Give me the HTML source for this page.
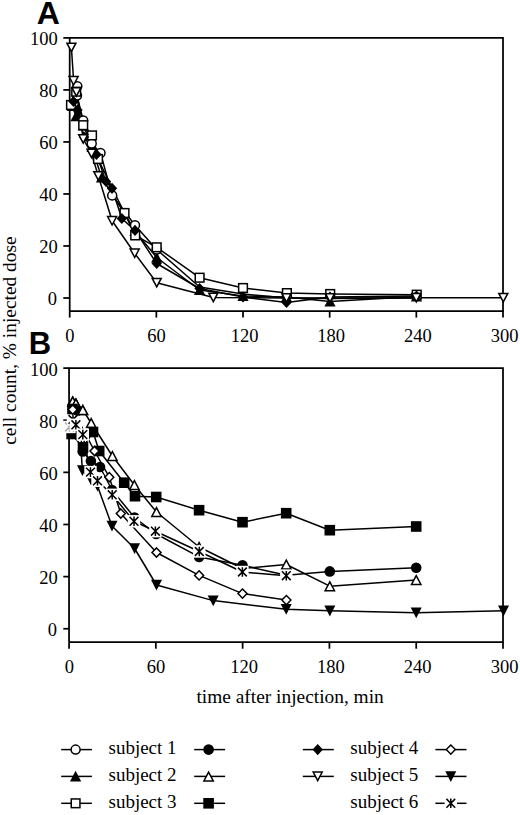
<!DOCTYPE html>
<html><head><meta charset="utf-8"><style>
html,body{margin:0;padding:0;background:#fff;}
svg{display:block;}
.tk{font-family:"Liberation Serif",serif;font-size:18.5px;fill:#000;}
.lg{font-family:"Liberation Serif",serif;font-size:19px;fill:#000;}
.at{font-family:"Liberation Serif",serif;font-size:19.4px;fill:#000;}
.pl{font-family:"Liberation Sans",sans-serif;font-weight:bold;font-size:32.5px;fill:#000;}
</style></head><body>
<svg width="520" height="815" viewBox="0 0 520 815">
<path d="M69.7 311.1V37.9H503V311.1H69.7" fill="none" stroke="#000" stroke-width="1.75" stroke-linejoin="miter"/><path d="M63.3 298H69.7" stroke="#000" stroke-width="1.75"/><text x="57.0" y="305.4" text-anchor="end" class="tk">0</text><path d="M63.3 245.98H69.7" stroke="#000" stroke-width="1.75"/><text x="57.7" y="253.38" text-anchor="end" class="tk">20</text><path d="M63.3 193.96H69.7" stroke="#000" stroke-width="1.75"/><text x="57.7" y="201.36" text-anchor="end" class="tk">40</text><path d="M63.3 141.94H69.7" stroke="#000" stroke-width="1.75"/><text x="57.7" y="149.34" text-anchor="end" class="tk">60</text><path d="M63.3 89.92H69.7" stroke="#000" stroke-width="1.75"/><text x="57.7" y="97.32" text-anchor="end" class="tk">80</text><path d="M63.3 37.9H69.7" stroke="#000" stroke-width="1.75"/><text x="57.7" y="45.3" text-anchor="end" class="tk">100</text><path d="M69.7 311.1V317.6" stroke="#000" stroke-width="1.75"/><text x="69.9" y="342.1" text-anchor="middle" class="tk">0</text><path d="M156.36 311.1V317.6" stroke="#000" stroke-width="1.75"/><text x="156.56" y="342.1" text-anchor="middle" class="tk">60</text><path d="M243.02 311.1V317.6" stroke="#000" stroke-width="1.75"/><text x="244.52" y="342.1" text-anchor="middle" class="tk">120</text><path d="M329.68 311.1V317.6" stroke="#000" stroke-width="1.75"/><text x="331.18" y="342.1" text-anchor="middle" class="tk">180</text><path d="M416.34 311.1V317.6" stroke="#000" stroke-width="1.75"/><text x="417.84" y="342.1" text-anchor="middle" class="tk">240</text><path d="M503 311.1V317.6" stroke="#000" stroke-width="1.75"/><text x="504.5" y="342.1" text-anchor="middle" class="tk">300</text><path d="M69.05 642.2V368.1H503V642.2H69.05" fill="none" stroke="#000" stroke-width="1.75" stroke-linejoin="miter"/><path d="M63.3 628.75H69.05" stroke="#000" stroke-width="1.75"/><text x="57.0" y="636.15" text-anchor="end" class="tk">0</text><path d="M63.3 576.62H69.05" stroke="#000" stroke-width="1.75"/><text x="57.7" y="584.02" text-anchor="end" class="tk">20</text><path d="M63.3 524.49H69.05" stroke="#000" stroke-width="1.75"/><text x="57.7" y="531.89" text-anchor="end" class="tk">40</text><path d="M63.3 472.36H69.05" stroke="#000" stroke-width="1.75"/><text x="57.7" y="479.76" text-anchor="end" class="tk">60</text><path d="M63.3 420.23H69.05" stroke="#000" stroke-width="1.75"/><text x="57.7" y="427.63" text-anchor="end" class="tk">80</text><path d="M63.3 368.1H69.05" stroke="#000" stroke-width="1.75"/><text x="57.7" y="375.5" text-anchor="end" class="tk">100</text><path d="M69.05 642.2V648.7" stroke="#000" stroke-width="1.75"/><text x="69.25" y="673.2" text-anchor="middle" class="tk">0</text><path d="M155.84 642.2V648.7" stroke="#000" stroke-width="1.75"/><text x="156.04" y="673.2" text-anchor="middle" class="tk">60</text><path d="M242.63 642.2V648.7" stroke="#000" stroke-width="1.75"/><text x="244.13" y="673.2" text-anchor="middle" class="tk">120</text><path d="M329.42 642.2V648.7" stroke="#000" stroke-width="1.75"/><text x="330.92" y="673.2" text-anchor="middle" class="tk">180</text><path d="M416.21 642.2V648.7" stroke="#000" stroke-width="1.75"/><text x="417.71" y="673.2" text-anchor="middle" class="tk">240</text><path d="M503 642.2V648.7" stroke="#000" stroke-width="1.75"/><text x="504.5" y="673.2" text-anchor="middle" class="tk">300</text><path d="M77.3 86.3L77 95.6L83.2 120.5L91.7 143.5L100.5 153L112.2 195.4L135 225.2L156.7 249.5L199.6 287L243 294L286.5 298L330 298.5L416.5 298" fill="none" stroke="#000" stroke-width="1.5" stroke-linejoin="round"/><path d="M72.5 106L76 116.3L83.3 125.5L92 147L101.5 177.5L124.5 213.3L135 231L156.7 257.5L199.6 290L243 296L286.5 297L330 301.5L416.5 296.5" fill="none" stroke="#000" stroke-width="1.5" stroke-linejoin="round"/><path d="M71 105L76.2 91.7L83.2 125.2L92 135.4L98 159L124.5 213L135.2 235.4L156.7 247.3L199.6 277.7L243 288L286.9 293.1L330.2 294L416.7 294.7" fill="none" stroke="#000" stroke-width="1.5" stroke-linejoin="round"/><path d="M73.5 101.5L77.5 110L84 137L96.5 154.5L106 181.5L112 188.3L121.8 218.5L135 230.4L156.7 263.5L199.6 288.5L243 297L286.5 302.5L330 297L416.5 296" fill="none" stroke="#000" stroke-width="1.5" stroke-linejoin="round"/><path d="M71.4 47.5L73.6 80.8L76.4 92L83.2 139L91.5 153.5L98.3 176L112.1 220.8L134.7 253.3L156.7 282.7L213.3 297.5L286.5 298L330 298L416.3 297.7L503.3 297.7" fill="none" stroke="#000" stroke-width="1.5" stroke-linejoin="round"/><path d="M72.5 100.4L78.1 111L66.9 111Z" fill="#000"/><path d="M76 110.7L81.6 121.3L70.4 121.3Z" fill="#000"/><path d="M83.3 119.9L88.9 130.5L77.7 130.5Z" fill="#000"/><path d="M92 141.4L97.6 152L86.4 152Z" fill="#000"/><path d="M101.5 171.9L107.1 182.5L95.9 182.5Z" fill="#000"/><path d="M124.5 207.7L130.1 218.3L118.9 218.3Z" fill="#000"/><path d="M135 225.4L140.6 236L129.4 236Z" fill="#000"/><path d="M156.7 251.9L162.3 262.5L151.1 262.5Z" fill="#000"/><path d="M199.6 284.4L205.2 295L194 295Z" fill="#000"/><path d="M243 290.4L248.6 301L237.4 301Z" fill="#000"/><path d="M286.5 291.4L292.1 302L280.9 302Z" fill="#000"/><path d="M330 295.9L335.6 306.5L324.4 306.5Z" fill="#000"/><path d="M416.5 290.9L422.1 301.5L410.9 301.5Z" fill="#000"/><circle cx="77.3" cy="86.3" r="4.5" fill="#fff" stroke="#000" stroke-width="1.5"/><circle cx="77" cy="95.6" r="4.5" fill="#fff" stroke="#000" stroke-width="1.5"/><circle cx="83.2" cy="120.5" r="4.5" fill="#fff" stroke="#000" stroke-width="1.5"/><circle cx="91.7" cy="143.5" r="4.5" fill="#fff" stroke="#000" stroke-width="1.5"/><circle cx="100.5" cy="153" r="4.5" fill="#fff" stroke="#000" stroke-width="1.5"/><circle cx="112.2" cy="195.4" r="4.5" fill="#fff" stroke="#000" stroke-width="1.5"/><circle cx="135" cy="225.2" r="4.5" fill="#fff" stroke="#000" stroke-width="1.5"/><circle cx="156.7" cy="249.5" r="4.5" fill="#fff" stroke="#000" stroke-width="1.5"/><rect x="66.65" y="100.65" width="8.7" height="8.7" fill="#fff" stroke="#000" stroke-width="1.5"/><rect x="71.85" y="87.35" width="8.7" height="8.7" fill="#fff" stroke="#000" stroke-width="1.5"/><rect x="78.85" y="120.85" width="8.7" height="8.7" fill="#fff" stroke="#000" stroke-width="1.5"/><rect x="87.65" y="131.05" width="8.7" height="8.7" fill="#fff" stroke="#000" stroke-width="1.5"/><rect x="93.65" y="154.65" width="8.7" height="8.7" fill="#fff" stroke="#000" stroke-width="1.5"/><rect x="120.15" y="208.65" width="8.7" height="8.7" fill="#fff" stroke="#000" stroke-width="1.5"/><rect x="130.85" y="231.05" width="8.7" height="8.7" fill="#fff" stroke="#000" stroke-width="1.5"/><rect x="152.35" y="242.95" width="8.7" height="8.7" fill="#fff" stroke="#000" stroke-width="1.5"/><rect x="195.25" y="273.35" width="8.7" height="8.7" fill="#fff" stroke="#000" stroke-width="1.5"/><rect x="238.65" y="283.65" width="8.7" height="8.7" fill="#fff" stroke="#000" stroke-width="1.5"/><rect x="282.55" y="288.75" width="8.7" height="8.7" fill="#fff" stroke="#000" stroke-width="1.5"/><rect x="325.85" y="289.65" width="8.7" height="8.7" fill="#fff" stroke="#000" stroke-width="1.5"/><rect x="412.35" y="290.35" width="8.7" height="8.7" fill="#fff" stroke="#000" stroke-width="1.5"/><path d="M73.5 95.9L78.7 101.5L73.5 107.1L68.3 101.5Z" fill="#000"/><path d="M77.5 104.4L82.7 110L77.5 115.6L72.3 110Z" fill="#000"/><path d="M84 131.4L89.2 137L84 142.6L78.8 137Z" fill="#000"/><path d="M96.5 148.9L101.7 154.5L96.5 160.1L91.3 154.5Z" fill="#000"/><path d="M106 175.9L111.2 181.5L106 187.1L100.8 181.5Z" fill="#000"/><path d="M112 182.7L117.2 188.3L112 193.9L106.8 188.3Z" fill="#000"/><path d="M121.8 212.9L127 218.5L121.8 224.1L116.6 218.5Z" fill="#000"/><path d="M135 224.8L140.2 230.4L135 236L129.8 230.4Z" fill="#000"/><path d="M156.7 257.9L161.9 263.5L156.7 269.1L151.5 263.5Z" fill="#000"/><path d="M199.6 282.9L204.8 288.5L199.6 294.1L194.4 288.5Z" fill="#000"/><path d="M243 291.4L248.2 297L243 302.6L237.8 297Z" fill="#000"/><path d="M286.5 296.9L291.7 302.5L286.5 308.1L281.3 302.5Z" fill="#000"/><path d="M330 291.4L335.2 297L330 302.6L324.8 297Z" fill="#000"/><path d="M416.5 290.4L421.7 296L416.5 301.6L411.3 296Z" fill="#000"/><path d="M66.9 43.2L75.9 43.2L71.4 51.7Z" fill="#fff" stroke="#000" stroke-width="1.5"/><path d="M69.1 76.5L78.1 76.5L73.6 85Z" fill="#fff" stroke="#000" stroke-width="1.5"/><path d="M71.9 87.7L80.9 87.7L76.4 96.2Z" fill="#fff" stroke="#000" stroke-width="1.5"/><path d="M78.7 134.7L87.7 134.7L83.2 143.2Z" fill="#fff" stroke="#000" stroke-width="1.5"/><path d="M87 149.2L96 149.2L91.5 157.7Z" fill="#fff" stroke="#000" stroke-width="1.5"/><path d="M93.8 171.7L102.8 171.7L98.3 180.2Z" fill="#fff" stroke="#000" stroke-width="1.5"/><path d="M107.6 216.5L116.6 216.5L112.1 225Z" fill="#fff" stroke="#000" stroke-width="1.5"/><path d="M130.2 249L139.2 249L134.7 257.5Z" fill="#fff" stroke="#000" stroke-width="1.5"/><path d="M152.2 278.4L161.2 278.4L156.7 286.9Z" fill="#fff" stroke="#000" stroke-width="1.5"/><path d="M208.8 293.2L217.8 293.2L213.3 301.7Z" fill="#fff" stroke="#000" stroke-width="1.5"/><path d="M282 293.7L291 293.7L286.5 302.2Z" fill="#fff" stroke="#000" stroke-width="1.5"/><path d="M325.5 293.7L334.5 293.7L330 302.2Z" fill="#fff" stroke="#000" stroke-width="1.5"/><path d="M411.8 293.4L420.8 293.4L416.3 301.9Z" fill="#fff" stroke="#000" stroke-width="1.5"/><path d="M498.8 293.4L507.8 293.4L503.3 301.9Z" fill="#fff" stroke="#000" stroke-width="1.5"/><path d="M77 411L82.8 451.4L90.9 461L100 467L112 490L134.5 517.5L156.2 534L199.1 556.9L242.5 565.3L286.3 575.3L329.8 571.4L416.2 567.7" fill="none" stroke="#000" stroke-width="1.5" stroke-linejoin="round"/><path d="M72.7 401.5L75.9 403.5L82.8 410L91.2 423L112.4 456L134.4 485L156.5 512L199.1 547L242.5 568.5L286.3 564.5L329.8 586.2L416.2 580" fill="none" stroke="#000" stroke-width="1.5" stroke-linejoin="round"/><path d="M71.6 434L83 447.4L93 432L99.2 451L124.2 482.7L135 496.2L156.2 497L199.1 510.2L242.5 522.2L286.2 513.2L329.8 530.2L416.2 526.5" fill="none" stroke="#000" stroke-width="1.5" stroke-linejoin="round"/><path d="M72.7 409.6L94.5 451L109.3 477.2L120.8 513.5L156.5 552.5L199.1 575.4L242.5 593.6L286.4 600.1" fill="none" stroke="#000" stroke-width="1.5" stroke-linejoin="round"/><path d="M81 449L82.4 470.5L91.1 480L97.5 486L112 526L134.6 548.5L156.5 585L213.2 600.6L286.2 609.2L329.8 610.8L416.2 612.7L503.5 610.8" fill="none" stroke="#000" stroke-width="1.5" stroke-linejoin="round"/><path d="M69.5 427L73 419.5L75.9 424.8L82.8 434.6L90.5 472.1L97.5 480.8L112.2 494.8L134 521.3L155.4 531.2L199.3 551.5L242.4 572L286.3 575.7" fill="none" stroke="#000" stroke-width="1.5" stroke-linejoin="round"/><path d="M72.7 397.2L77.4 406L68 406Z" fill="#fff" stroke="#000" stroke-width="1.5" stroke-linejoin="miter"/><path d="M75.9 399.2L80.6 408L71.2 408Z" fill="#fff" stroke="#000" stroke-width="1.5" stroke-linejoin="miter"/><path d="M82.8 405.7L87.5 414.5L78.1 414.5Z" fill="#fff" stroke="#000" stroke-width="1.5" stroke-linejoin="miter"/><path d="M91.2 418.7L95.9 427.5L86.5 427.5Z" fill="#fff" stroke="#000" stroke-width="1.5" stroke-linejoin="miter"/><path d="M112.4 451.7L117.1 460.5L107.7 460.5Z" fill="#fff" stroke="#000" stroke-width="1.5" stroke-linejoin="miter"/><path d="M134.4 480.7L139.1 489.5L129.7 489.5Z" fill="#fff" stroke="#000" stroke-width="1.5" stroke-linejoin="miter"/><path d="M156.5 507.7L161.2 516.5L151.8 516.5Z" fill="#fff" stroke="#000" stroke-width="1.5" stroke-linejoin="miter"/><path d="M199.1 542.7L203.8 551.5L194.4 551.5Z" fill="#fff" stroke="#000" stroke-width="1.5" stroke-linejoin="miter"/><path d="M242.5 564.2L247.2 573L237.8 573Z" fill="#fff" stroke="#000" stroke-width="1.5" stroke-linejoin="miter"/><path d="M286.3 560.2L291 569L281.6 569Z" fill="#fff" stroke="#000" stroke-width="1.5" stroke-linejoin="miter"/><path d="M329.8 581.9L334.5 590.7L325.1 590.7Z" fill="#fff" stroke="#000" stroke-width="1.5" stroke-linejoin="miter"/><path d="M416.2 575.7L420.9 584.5L411.5 584.5Z" fill="#fff" stroke="#000" stroke-width="1.5" stroke-linejoin="miter"/><circle cx="77" cy="411" r="5.3" fill="#000"/><circle cx="82.8" cy="451.4" r="5.3" fill="#000"/><circle cx="90.9" cy="461" r="5.3" fill="#000"/><circle cx="100" cy="467" r="5.3" fill="#000"/><circle cx="112" cy="490" r="5.3" fill="#000"/><circle cx="134.5" cy="517.5" r="5.3" fill="#000"/><circle cx="156.2" cy="534" r="5.3" fill="#000"/><circle cx="199.1" cy="556.9" r="5.3" fill="#000"/><circle cx="242.5" cy="565.3" r="5.3" fill="#000"/><circle cx="329.8" cy="571.4" r="5.3" fill="#000"/><circle cx="416.2" cy="567.7" r="5.3" fill="#000"/><rect x="66.3" y="428.7" width="10.6" height="10.6" fill="#000"/><rect x="77.7" y="442.1" width="10.6" height="10.6" fill="#000"/><rect x="87.7" y="426.7" width="10.6" height="10.6" fill="#000"/><rect x="93.9" y="445.7" width="10.6" height="10.6" fill="#000"/><rect x="118.9" y="477.4" width="10.6" height="10.6" fill="#000"/><rect x="129.7" y="490.9" width="10.6" height="10.6" fill="#000"/><rect x="150.9" y="491.7" width="10.6" height="10.6" fill="#000"/><rect x="193.8" y="504.9" width="10.6" height="10.6" fill="#000"/><rect x="237.2" y="516.9" width="10.6" height="10.6" fill="#000"/><rect x="280.9" y="507.9" width="10.6" height="10.6" fill="#000"/><rect x="324.5" y="524.9" width="10.6" height="10.6" fill="#000"/><rect x="410.9" y="521.2" width="10.6" height="10.6" fill="#000"/><path d="M72.7 405L77.2 409.6L72.7 414.2L68.2 409.6Z" fill="#fff" stroke="#000" stroke-width="1.5"/><path d="M94.5 446.4L99 451L94.5 455.6L90 451Z" fill="#fff" stroke="#000" stroke-width="1.5"/><path d="M109.3 472.6L113.8 477.2L109.3 481.8L104.8 477.2Z" fill="#fff" stroke="#000" stroke-width="1.5"/><path d="M120.8 508.9L125.3 513.5L120.8 518.1L116.3 513.5Z" fill="#fff" stroke="#000" stroke-width="1.5"/><path d="M156.5 547.9L161 552.5L156.5 557.1L152 552.5Z" fill="#fff" stroke="#000" stroke-width="1.5"/><path d="M199.1 570.8L203.6 575.4L199.1 580L194.6 575.4Z" fill="#fff" stroke="#000" stroke-width="1.5"/><path d="M242.5 589L247 593.6L242.5 598.2L238 593.6Z" fill="#fff" stroke="#000" stroke-width="1.5"/><path d="M286.4 595.5L290.9 600.1L286.4 604.7L281.9 600.1Z" fill="#fff" stroke="#000" stroke-width="1.5"/><path d="M76.9 465.3L87.9 465.3L82.4 476.1Z" fill="#000"/><path d="M85.6 474.8L96.6 474.8L91.1 485.6Z" fill="#000"/><path d="M92 480.8L103 480.8L97.5 491.6Z" fill="#000"/><path d="M106.5 520.8L117.5 520.8L112 531.6Z" fill="#000"/><path d="M129.1 543.3L140.1 543.3L134.6 554.1Z" fill="#000"/><path d="M151 579.8L162 579.8L156.5 590.6Z" fill="#000"/><path d="M207.7 595.4L218.7 595.4L213.2 606.2Z" fill="#000"/><path d="M280.7 604L291.7 604L286.2 614.8Z" fill="#000"/><path d="M324.3 605.6L335.3 605.6L329.8 616.4Z" fill="#000"/><path d="M410.7 607.5L421.7 607.5L416.2 618.3Z" fill="#000"/><path d="M498 605.6L509 605.6L503.5 616.4Z" fill="#000"/><rect x="63.3" y="420.8" width="12.4" height="12.4" fill="#fff"/><path d="M65.1 422.6L73.9 431.4M73.9 422.6L65.1 431.4M69.5 422.2L69.5 431.8" stroke="#aaa" stroke-width="1.5" fill="none"/><rect x="66.8" y="413.3" width="12.4" height="12.4" fill="#fff"/><path d="M68.6 415.1L77.4 423.9M77.4 415.1L68.6 423.9M73 414.7L73 424.3" stroke="#000" stroke-width="1.5" fill="none"/><rect x="69.7" y="418.6" width="12.4" height="12.4" fill="#fff"/><path d="M71.5 420.4L80.3 429.2M80.3 420.4L71.5 429.2M75.9 420L75.9 429.6" stroke="#000" stroke-width="1.5" fill="none"/><rect x="76.6" y="428.4" width="12.4" height="12.4" fill="#fff"/><path d="M78.4 430.2L87.2 439M87.2 430.2L78.4 439M82.8 429.8L82.8 439.4" stroke="#000" stroke-width="1.5" fill="none"/><rect x="84.3" y="465.9" width="12.4" height="12.4" fill="#fff"/><path d="M86.1 467.7L94.9 476.5M94.9 467.7L86.1 476.5M90.5 467.3L90.5 476.9" stroke="#000" stroke-width="1.5" fill="none"/><rect x="91.3" y="474.6" width="12.4" height="12.4" fill="#fff"/><path d="M93.1 476.4L101.9 485.2M101.9 476.4L93.1 485.2M97.5 476L97.5 485.6" stroke="#000" stroke-width="1.5" fill="none"/><rect x="106" y="488.6" width="12.4" height="12.4" fill="#fff"/><path d="M107.8 490.4L116.6 499.2M116.6 490.4L107.8 499.2M112.2 490L112.2 499.6" stroke="#000" stroke-width="1.5" fill="none"/><rect x="127.8" y="515.1" width="12.4" height="12.4" fill="#fff"/><path d="M129.6 516.9L138.4 525.7M138.4 516.9L129.6 525.7M134 516.5L134 526.1" stroke="#000" stroke-width="1.5" fill="none"/><rect x="149.2" y="525" width="12.4" height="12.4" fill="#fff"/><path d="M151 526.8L159.8 535.6M159.8 526.8L151 535.6M155.4 526.4L155.4 536" stroke="#000" stroke-width="1.5" fill="none"/><rect x="193.1" y="545.3" width="12.4" height="12.4" fill="#fff"/><path d="M194.9 547.1L203.7 555.9M203.7 547.1L194.9 555.9M199.3 546.7L199.3 556.3" stroke="#000" stroke-width="1.5" fill="none"/><rect x="236.2" y="565.8" width="12.4" height="12.4" fill="#fff"/><path d="M238 567.6L246.8 576.4M246.8 567.6L238 576.4M242.4 567.2L242.4 576.8" stroke="#000" stroke-width="1.5" fill="none"/><rect x="280.1" y="569.5" width="12.4" height="12.4" fill="#fff"/><path d="M281.9 571.3L290.7 580.1M290.7 571.3L281.9 580.1M286.3 570.9L286.3 580.5" stroke="#000" stroke-width="1.5" fill="none"/><path d="M72.7 397.2L77.4 406L68 406Z" fill="#fff" stroke="#000" stroke-width="1.5" stroke-linejoin="miter"/><path d="M75.9 399.2L80.6 408L71.2 408Z" fill="#fff" stroke="#000" stroke-width="1.5" stroke-linejoin="miter"/><rect x="67.2" y="403.7" width="10.6" height="10.6" fill="#000"/><circle cx="77.5" cy="410.5" r="5.3" fill="#000"/><path d="M72.7 405L77.2 409.6L72.7 414.2L68.2 409.6Z" fill="#fff" stroke="#000" stroke-width="1.5"/><path d="M82.8 405.7L87.5 414.5L78.1 414.5Z" fill="#fff" stroke="#000" stroke-width="1.5" stroke-linejoin="miter"/><path d="M61.2 749.6H91.9" stroke="#000" stroke-width="1.5"/><circle cx="75.6" cy="749.6" r="4.5" fill="#fff" stroke="#000" stroke-width="1.5"/><text x="108.5" y="754" class="lg">subject 1</text><path d="M194.2 749.6H225.1" stroke="#000" stroke-width="1.5"/><circle cx="208.6" cy="749.6" r="5.3" fill="#000"/><path d="M61.2 776.4H91.9" stroke="#000" stroke-width="1.5"/><path d="M75.6 770.8L81.2 781.4L70 781.4Z" fill="#000"/><text x="108.5" y="780.8" class="lg">subject 2</text><path d="M194.2 776.4H225.1" stroke="#000" stroke-width="1.5"/><path d="M208.6 772.1L213.3 780.9L203.9 780.9Z" fill="#fff" stroke="#000" stroke-width="1.5" stroke-linejoin="miter"/><path d="M61.2 803.3H91.9" stroke="#000" stroke-width="1.5"/><rect x="71.25" y="798.95" width="8.7" height="8.7" fill="#fff" stroke="#000" stroke-width="1.5"/><text x="108.5" y="807.7" class="lg">subject 3</text><path d="M194.2 803.3H225.1" stroke="#000" stroke-width="1.5"/><rect x="203.3" y="798" width="10.6" height="10.6" fill="#000"/><path d="M302.8 749.6H333.8" stroke="#000" stroke-width="1.5"/><path d="M317.7 744L322.9 749.6L317.7 755.2L312.5 749.6Z" fill="#000"/><text x="350.3" y="754" class="lg">subject 4</text><path d="M435.4 749.6H466.5" stroke="#000" stroke-width="1.5"/><path d="M450.8 745L455.3 749.6L450.8 754.2L446.3 749.6Z" fill="#fff" stroke="#000" stroke-width="1.5"/><path d="M302.8 776.4H333.8" stroke="#000" stroke-width="1.5"/><path d="M313.2 772.1L322.2 772.1L317.7 780.6Z" fill="#fff" stroke="#000" stroke-width="1.5"/><text x="350.3" y="780.8" class="lg">subject 5</text><path d="M435.4 776.4H466.5" stroke="#000" stroke-width="1.5"/><path d="M445.3 771.2L456.3 771.2L450.8 782Z" fill="#000"/><text x="350.3" y="807.7" class="lg">subject 6</text><path d="M435.4 803.3H466.5" stroke="#000" stroke-width="1.5"/><rect x="444.6" y="797.1" width="12.4" height="12.4" fill="#fff"/><path d="M446.4 798.9L455.2 807.7M455.2 798.9L446.4 807.7M450.8 798.5L450.8 808.1" stroke="#000" stroke-width="1.5" fill="none"/><text x="36.8" y="24" class="pl" style="font-size:32px">A</text><text x="28.7" y="353.8" class="pl" style="font-size:31px">B</text><text x="196.4" y="702.9" class="at">time after injection, min</text><text transform="translate(16.4 340.6) rotate(-90)" text-anchor="middle" class="at">cell count, % injected dose</text>
</svg>
</body></html>
